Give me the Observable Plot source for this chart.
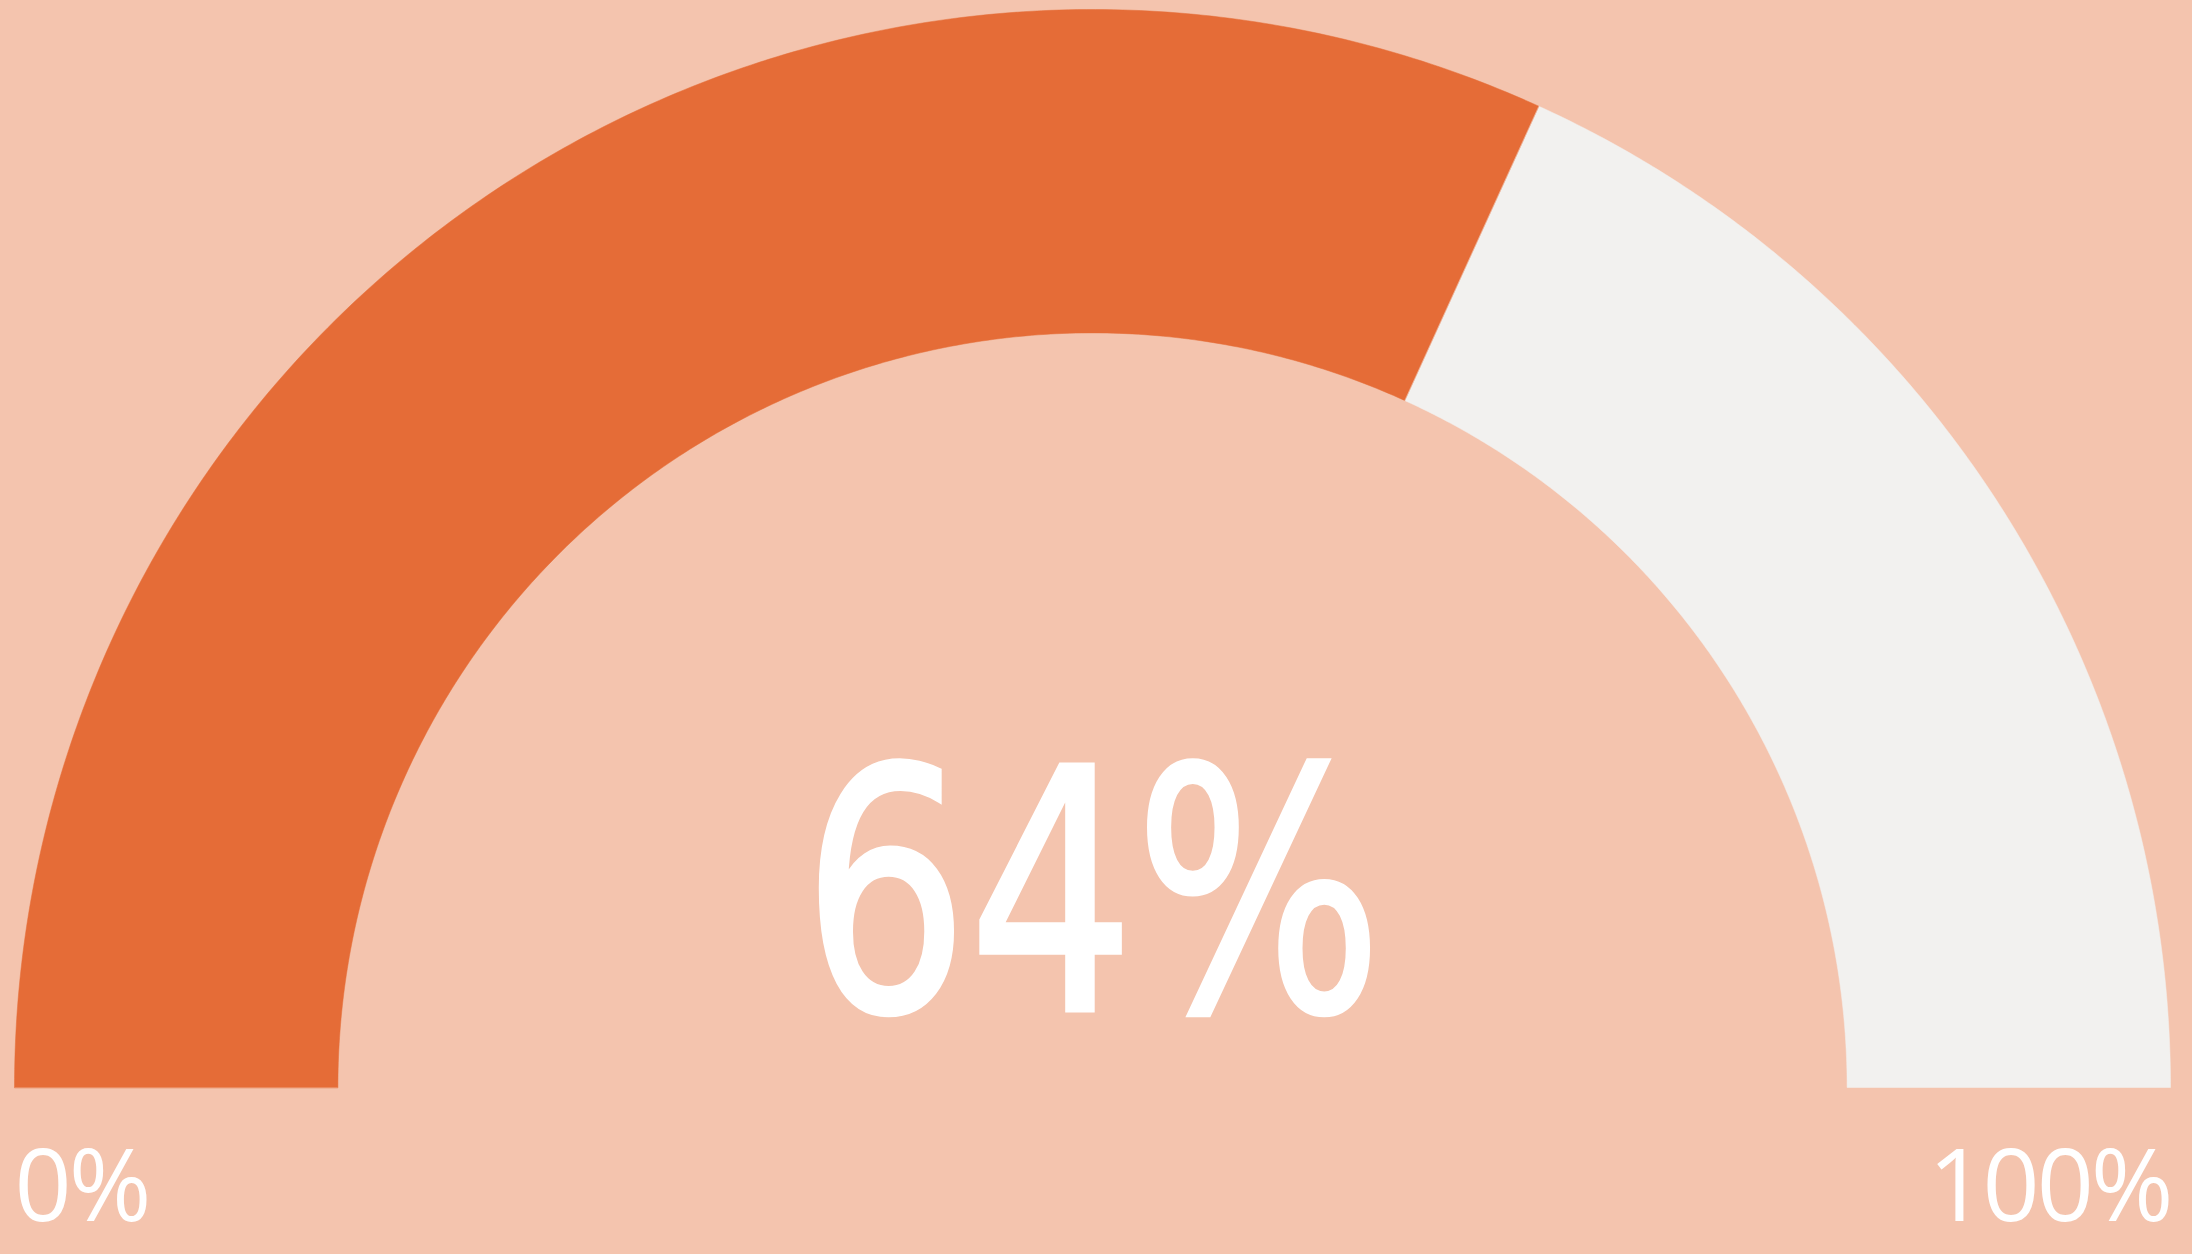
<!DOCTYPE html>
<html><head><meta charset="utf-8">
<script src="https://cdn.jsdelivr.net/npm/d3@7"></script>
<script src="https://cdn.jsdelivr.net/npm/@observablehq/plot@0.6"></script>
<style>html,body{margin:0;padding:0;background:#F4C4AE;overflow:hidden}#chart svg{display:block}</style>
</head><body><div id="chart"></div>
<script>
// ---- data ----
const gaugeValue = 63.6;          // fill position read from the arc (label shows 64%)
const gaugeMin = 0;
const gaugeMax = 100;
const segmentNames = ["filled", "remaining"];
const segmentColors = ["#E56C37", "#F2F1EF"];
const endLabels = ["0%", "100%"];

// ---- geometry helpers ----
const innerRatio = 0.7;
const angle = d3.scaleLinear([gaugeMin, gaugeMax], [Math.PI, 0]);
function ringPolygon(from, to, name) {
  const pts = [];
  const n = 240;
  for (let i = 0; i <= n; i++) {
    const t = angle(from + (to - from) * i / n);
    pts.push({seg: name, x: Math.cos(t), y: Math.sin(t)});
  }
  for (let i = n; i >= 0; i--) {
    const t = angle(from + (to - from) * i / n);
    pts.push({seg: name, x: innerRatio * Math.cos(t), y: innerRatio * Math.sin(t)});
  }
  return pts;
}
const segBounds = [[gaugeMin, gaugeValue], [gaugeValue, gaugeMax]];
const polys = segBounds.map((b, i) => ringPolygon(b[0], b[1], segmentNames[i]));
const fmt = d3.format(".0f");

const W = 2192, H = 1254;
const chart = Plot.plot({
  width: W, height: H,
  margin: 0,
  style: {background: "#F4C4AE", overflow: "visible"},
  x: {domain: [-1, 1], range: [14, 2170], axis: null},
  y: {domain: [0, 1], range: [1087, 9], axis: null},
  marks: [
    ...polys.map((p, i) => Plot.line(p, {x: "x", y: "y", fill: segmentColors[i], stroke: segmentColors[i], strokeWidth: 0.5, curve: "linear-closed"})),
    Plot.text([gaugeValue], {x: () => 0, y: () => 0, text: d => fmt(d) + "%", fill: "white",
      stroke: "white", strokeWidth: 5, strokeLinejoin: "miter",
      fontSize: 336, fontFamily: "'DejaVu Sans', sans-serif",
      textAnchor: "middle", dy: -185}),
    Plot.text([endLabels[0]], {x: () => -1, y: () => 0, text: d => d, fill: "white",
      fontSize: 100, fontFamily: "'Open Sans', 'Noto Sans', sans-serif", textAnchor: "start", dy: 101}),
    Plot.text([endLabels[1]], {x: () => 1, y: () => 0, text: d => d, fill: "white",
      fontSize: 100, fontFamily: "'Open Sans', 'Noto Sans', sans-serif", textAnchor: "end", dy: 101})
  ]
});
// condense the big value label to match the narrow display face of the original
d3.select(chart).selectAll("text").filter(function() { return this.textContent === fmt(gaugeValue) + "%"; })
  .attr("textLength", 580).attr("lengthAdjust", "spacingAndGlyphs");
d3.select(chart).selectAll("text").filter(function() { return endLabels.includes(this.textContent); })
  .style("letter-spacing", "-3px");
document.getElementById("chart").appendChild(chart);
</script>
</body></html>
